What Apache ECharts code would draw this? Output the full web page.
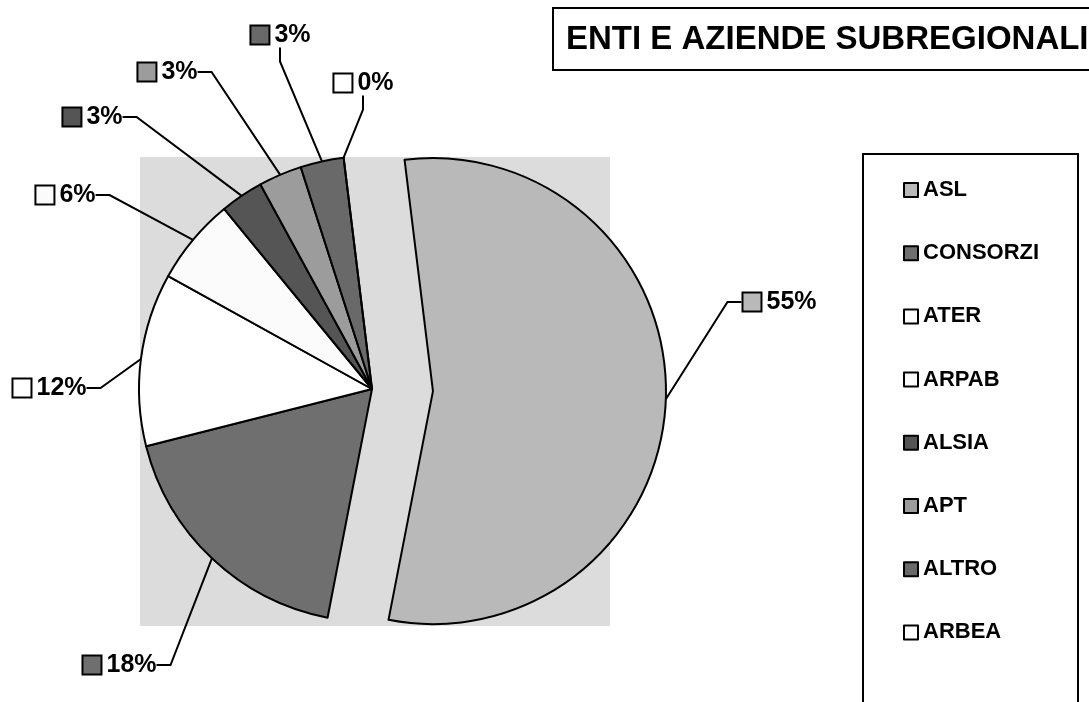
<!DOCTYPE html>
<html>
<head>
<meta charset="utf-8">
<script src="https://cdn.jsdelivr.net/npm/echarts@6/dist/echarts.min.js"></script>
<style>
  html, body { margin: 0; padding: 0; background: #fff; }
  #main { width: 1089px; height: 702px; }
</style>
</head>
<body>
<div id="main"></div>
<script>
// dati
const categories = ["ASL", "CONSORZI", "ATER", "ARPAB", "ALSIA", "APT", "ALTRO", "ARBEA"];
const percentages = [55, 18, 12, 6, 3, 3, 3, 0];
const sliceColors = ["#b9b9b9", "#6f6f6f", "#ffffff", "#fbfbfb", "#555555", "#9c9c9c", "#696969", "#ffffff"];

// dove stanno le etichette (centro del riquadro), come nel grafico Excel
const labelPos = [[780, 302], [120, 665], [50, 388], [66, 195], [93, 117], [168, 72], [281, 35], [364, 83]];

const FONT = "'Liberation Sans', Arial, sans-serif";

const center = [372, 389];
const radius = 233;
const startAngle = 97;
const explode = 61;

const chart = echarts.init(document.getElementById("main"));

// la fetta ASL e' staccata lungo la sua bisettrice
const total = percentages.reduce((a, b) => a + b, 0);
const aslMid = (startAngle - (percentages[0] / total) * 180) * Math.PI / 180;
const aslCenter = [center[0] + explode * Math.cos(aslMid), center[1] - explode * Math.sin(aslMid)];

// quadratini colorati davanti alle etichette
const rich = {
  t: { fontSize: 25, fontWeight: "bold", color: "#000", fontFamily: FONT, padding: [0, 0, 0, 6] }
};
sliceColors.forEach((c, i) => {
  rich["c" + i] = { width: 17, height: 17, backgroundColor: c, borderColor: "#000", borderWidth: 2 };
});

const hidden = {
  itemStyle: { color: "rgba(0,0,0,0)", borderWidth: 0 },
  label: { show: false },
  labelLine: { show: false }
};

const aslData = [
  { name: categories[0], value: percentages[0], itemStyle: { color: sliceColors[0] } },
  Object.assign({ name: "", value: total - percentages[0] }, hidden)
];

const restData = categories.map((name, i) =>
  i === 0
    ? Object.assign({ name: name, value: percentages[i] }, hidden)
    : { name: name, value: percentages[i], itemStyle: { color: sliceColors[i] } }
);

const pieLabel = {
  show: true,
  position: "outside",
  padding: 6,
  formatter: (p) => "{c" + p.dataIndex + "|}{t|" + Math.round(p.percent) + "%}",
  rich: rich
};
const pieLabelLine = {
  show: true,
  length: 30,
  length2: 14,
  lineStyle: { color: "#000", width: 2 }
};
const placeLabel = (params) => {
  const p = labelPos[params.dataIndex];
  return { x: p[0], y: p[1], align: "center", verticalAlign: "middle" };
};

const option = {
  animation: false,
  backgroundColor: "#fff",
  title: {
    text: "ENTI E AZIENDE SUBREGIONALI",
    left: 566,
    top: 23,
    padding: 0,
    textStyle: { fontSize: 33, fontWeight: "bold", color: "#000", fontFamily: FONT }
  },
  graphic: [
    {
      type: "rect", z: -10, silent: true,
      shape: { x: 140, y: 157, width: 470, height: 469 },
      style: { fill: "#dcdcdc" }
    },
    {
      type: "rect", silent: true,
      shape: { x: 553, y: 8, width: 600, height: 62 },
      style: { fill: "none", stroke: "#000", lineWidth: 2 }
    },
    {
      type: "rect", silent: true,
      shape: { x: 863, y: 154, width: 215, height: 600 },
      style: { fill: "none", stroke: "#000", lineWidth: 2 }
    }
  ],
  legend: {
    orient: "vertical",
    left: 898,
    top: 174,
    itemWidth: 14,
    itemHeight: 14,
    itemGap: 41.2,
    icon: "rect",
    data: categories,
    itemStyle: { borderColor: "#000", borderWidth: 2 },
    textStyle: { fontSize: 22, fontWeight: "bold", color: "#000", fontFamily: FONT }
  },
  series: [
    {
      // ASL, esplosa
      type: "pie",
      center: aslCenter,
      radius: radius,
      startAngle: startAngle,
      clockwise: true,
      avoidLabelOverlap: false,
      emphasis: { scale: false },
      itemStyle: { borderColor: "#000", borderWidth: 2 },
      label: pieLabel,
      labelLine: pieLabelLine,
      labelLayout: placeLabel,
      data: aslData
    },
    {
      // altre fette
      type: "pie",
      center: center,
      radius: radius,
      startAngle: startAngle,
      clockwise: true,
      avoidLabelOverlap: false,
      emphasis: { scale: false },
      itemStyle: { borderColor: "#000", borderWidth: 2 },
      label: pieLabel,
      labelLine: pieLabelLine,
      labelLayout: placeLabel,
      data: restData
    }
  ]
};

chart.setOption(option);
</script>
</body>
</html>
